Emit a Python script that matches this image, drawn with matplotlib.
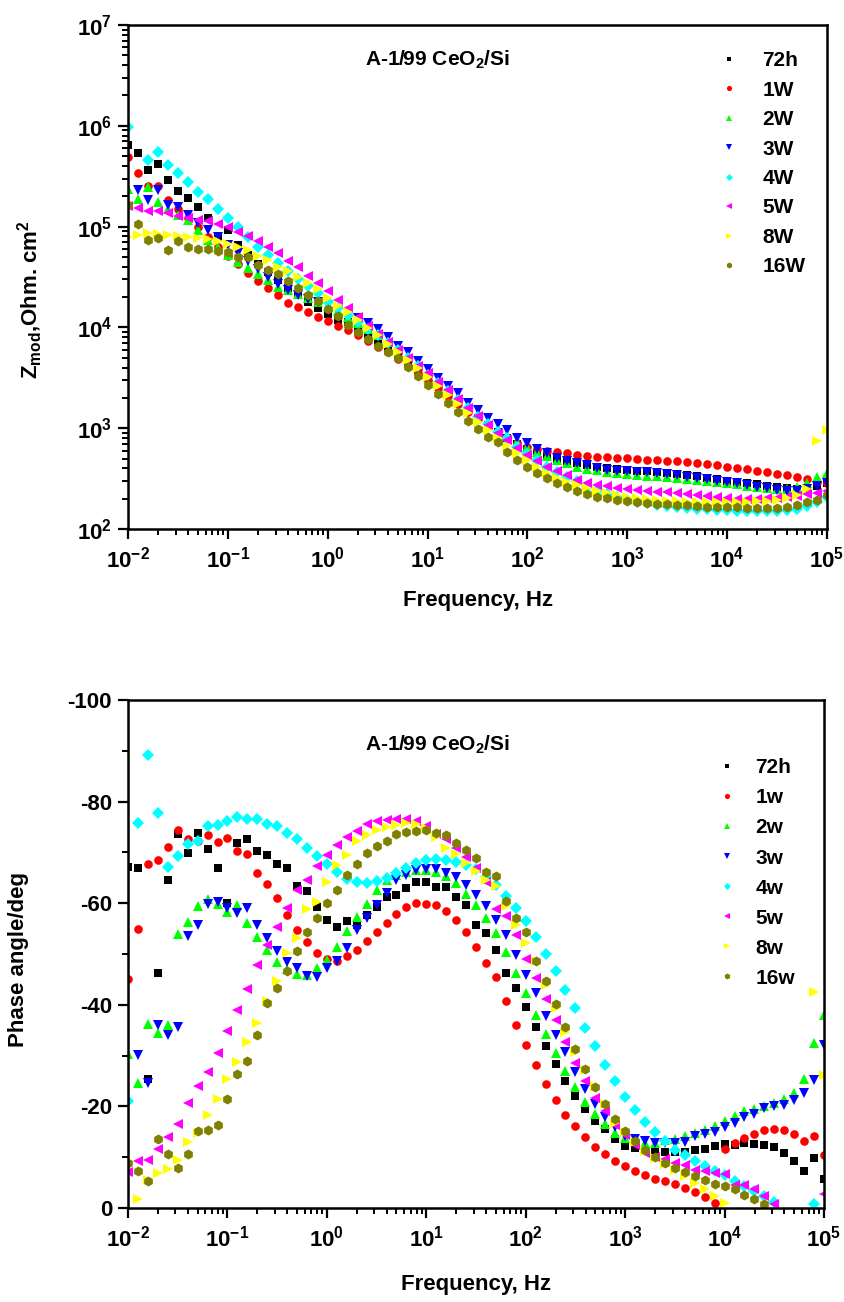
import numpy as np
import matplotlib
matplotlib.use("Agg")
import matplotlib.pyplot as plt
from matplotlib.ticker import FixedLocator, FuncFormatter, LogLocator, NullFormatter, MultipleLocator

plt.rcParams.update({
    "font.family": ["Liberation Sans", "DejaVu Sans"],
    "font.weight": "bold",
    "axes.labelweight": "bold",
    "mathtext.fontset": "custom",
    "mathtext.rm": "Liberation Sans",
    "mathtext.bf": "Liberation Sans:bold",
    "mathtext.it": "Liberation Sans:italic",
    "axes.unicode_minus": False,
})

nan = np.nan

# measurement frequencies: 10 points per decade, 0.01 Hz ... 100 kHz
freq_hz = np.logspace(-2, 5, 71)

labels_top = ["72h", "1W", "2W", "3W", "4W", "5W", "8W", "16W"]
labels_bottom = ["72h", "1w", "2w", "3w", "4w", "5w", "8w", "16w"]

# log10 |Z| (Ohm cm^2), from 0.01 Hz upward
logz_72h = [5.81, 5.73, 5.56, 5.62, 5.46, 5.35, 5.28, 5.19, 5.09, 4.90,
            4.97, 4.82, 4.72, 4.63, 4.55, 4.47, 4.39, 4.32, 4.25, 4.19,
            4.13, 4.07, 4.05, 3.98, 3.92, 3.86, 3.80, 3.73, 3.66, 3.58,
            3.50, 3.42, 3.34, 3.26, 3.18, 3.10, 3.03, 2.96, 2.90, 2.84,
            2.79, 2.75, 2.72, 2.69, 2.67, 2.65, 2.63, 2.62, 2.61, 2.60,
            2.59, 2.58, 2.58, 2.57, 2.56, 2.55, 2.54, 2.53, 2.51, 2.50,
            2.48, 2.47, 2.46, 2.45, 2.43, 2.42, 2.41, 2.40, 2.41, 2.43, 2.46]
logz_1w = [5.69, 5.53, 5.40, 5.40, 5.26, 5.17, 5.09, 5.00, 4.90, 4.80,
           4.71, 4.63, 4.54, 4.46, 4.39, 4.32, 4.24, 4.20, 4.15, 4.10,
           4.06, 4.01, 3.97, 3.92, 3.87, 3.81, 3.76, 3.69, 3.62, 3.55,
           3.48, 3.40, 3.32, 3.24, 3.16, 3.09, 3.02, 2.96, 2.90, 2.85,
           2.81, 2.79, 2.77, 2.76, 2.75, 2.73, 2.72, 2.71, 2.71, 2.70,
           2.70, 2.69, 2.68, 2.68, 2.67, 2.67, 2.66, 2.65, 2.64, 2.63,
           2.62, 2.61, 2.60, 2.58, 2.57, 2.55, 2.54, 2.52, 2.50, 2.47, 2.46]
logz_2w = [5.37, 5.27, 5.39, 5.24, 5.17, 5.12, 5.07, 4.97, 4.87, 4.80,
           4.72, 4.65, 4.59, 4.53, 4.47, 4.40, 4.37, 4.33, 4.29, 4.25,
           4.21, 4.16, 4.10, 4.04, 3.98, 3.92, 3.86, 3.79, 3.72, 3.64,
           3.56, 3.48, 3.39, 3.31, 3.22, 3.14, 3.06, 2.99, 2.93, 2.86,
           2.81, 2.76, 2.72, 2.68, 2.65, 2.62, 2.60, 2.59, 2.57, 2.56,
           2.55, 2.54, 2.53, 2.53, 2.52, 2.51, 2.50, 2.49, 2.48, 2.47,
           2.46, 2.45, 2.43, 2.42, 2.41, 2.40, 2.40, 2.42, 2.46, 2.52, 2.56]
logz_3w = [nan, 5.36, 5.26, 5.36, 5.21, 5.19, 5.12, 5.04, 4.97, 4.90,
           4.82, 4.74, 4.66, 4.58, 4.50, 4.43, 4.37, 4.32, 4.28, 4.25,
           4.22, 4.17, 4.13, 4.09, 4.04, 3.98, 3.90, 3.82, 3.76, 3.67,
           3.59, 3.50, 3.42, 3.35, 3.25, 3.18, 3.10, 3.04, 2.98, 2.90,
           2.85, 2.79, 2.75, 2.70, 2.67, 2.65, 2.63, 2.61, 2.59, 2.58,
           2.58, 2.57, 2.57, 2.56, 2.55, 2.54, 2.52, 2.51, 2.50, 2.48,
           2.47, 2.46, 2.44, 2.42, 2.41, 2.39, 2.38, 2.38, 2.40, 2.43, 2.46]
logz_4w = [5.99, nan, 5.66, 5.74, 5.61, 5.53, 5.44, 5.34, 5.27, 5.17,
           5.09, 5.00, 4.90, 4.80, 4.72, 4.64, 4.56, 4.48, 4.41, 4.34,
           4.25, 4.19, 4.12, 4.05, 3.98, 3.92, 3.85, 3.78, 3.70, 3.62,
           3.53, 3.45, 3.37, 3.28, 3.20, 3.11, 3.04, 2.96, 2.90, 2.81,
           2.74, 2.68, 2.62, 2.57, 2.52, 2.48, 2.42, 2.38, 2.35, 2.32,
           2.29, 2.27, 2.26, 2.24, 2.23, 2.22, 2.21, 2.20, 2.20, 2.19,
           2.19, 2.18, 2.18, 2.18, 2.18, 2.18, 2.19, 2.20, 2.23, 2.27, 2.32]
logz_5w = [5.20, 5.18, 5.15, 5.15, 5.13, 5.11, 5.09, 5.07, 5.06, 5.03,
           5.00, 4.95, 4.91, 4.86, 4.80, 4.74, 4.66, 4.60, 4.51, 4.44,
           4.36, 4.27, 4.19, 4.10, 4.01, 3.93, 3.86, 3.78, 3.70, 3.62,
           3.55, 3.46, 3.38, 3.29, 3.20, 3.12, 3.03, 2.95, 2.88, 2.80,
           2.73, 2.67, 2.62, 2.58, 2.54, 2.49, 2.46, 2.44, 2.43, 2.41,
           2.40, 2.39, 2.38, 2.37, 2.37, 2.36, 2.35, 2.34, 2.33, 2.32,
           2.31, 2.30, 2.30, 2.30, 2.31, 2.31, 2.32, 2.33, 2.35, 2.36, 2.38]
logz_8w = [4.90, 4.92, 4.94, 4.93, 4.92, 4.91, 4.90, 4.89, 4.88, 4.86,
           4.83, 4.80, 4.77, 4.71, 4.67, 4.60, 4.56, 4.50, 4.44, 4.38,
           4.29, 4.21, 4.15, 4.07, 3.99, 3.92, 3.84, 3.76, 3.68, 3.60,
           3.51, 3.42, 3.33, 3.24, 3.15, 3.06, 2.98, 2.90, 2.82, 2.75,
           2.68, 2.62, 2.56, 2.51, 2.47, 2.44, 2.41, 2.38, 2.36, 2.34,
           2.32, 2.31, 2.30, 2.29, 2.28, 2.28, 2.27, 2.27, 2.27, 2.27,
           2.27, 2.27, 2.27, 2.28, 2.28, 2.29, 2.31, 2.34, 2.40, 2.87, 2.98]
logz_16w = [5.21, 5.03, 4.87, 4.89, 4.77, 4.86, 4.80, 4.78, 4.78, 4.76,
            4.75, 4.70, 4.70, 4.62, 4.57, 4.53, 4.46, 4.39, 4.32, 4.26,
            4.18, 4.11, 4.02, 3.95, 3.88, 3.82, 3.76, 3.70, 3.61, 3.52,
            3.43, 3.34, 3.25, 3.16, 3.07, 2.99, 2.91, 2.86, 2.76, 2.68,
            2.62, 2.56, 2.51, 2.46, 2.42, 2.38, 2.35, 2.32, 2.31, 2.29,
            2.28, 2.27, 2.26, 2.25, 2.25, 2.24, 2.24, 2.23, 2.22, 2.22,
            2.22, 2.22, 2.21, 2.21, 2.21, 2.21, 2.22, 2.24, 2.27, 2.29, 2.34]

# phase angle (deg), from 0.01 Hz upward
phase_72h = [-67.2, -67.0, -25.4, -46.2, -64.6, -73.6, -69.9, -73.8, -70.6, -66.9,
             -60.1, -71.9, -72.6, -70.3, -69.5, -67.7, -66.9, -63.4, -62.3, -59.2,
             -56.7, -55.3, -56.4, -55.7, -57.7, -59.2, -61.3, -61.6, -62.9, -64.1,
             -64.1, -63.1, -63.1, -61.2, -59.6, -55.7, -54.2, -50.8, -46.3, -43.4,
             -39.5, -35.7, -31.8, -28.3, -24.9, -22.0, -19.4, -17.2, -15.5, -13.5,
             -12.2, -11.9, -11.4, -11.3, -11.1, -11.1, -11.1, -11.4, -11.6, -12.2,
             -12.6, -12.4, -12.7, -12.6, -12.4, -12.1, -10.8, -9.3, -7.2, -9.8, -5.8]
phase_1w = [-45.1, -54.9, -67.7, -68.5, -71.0, -74.4, -72.6, -72.3, -73.4, -72.0,
            -72.8, -70.3, -69.6, -66.0, -63.8, -61.0, -57.7, -54.7, -52.3, -50.1,
            -49.0, -48.6, -49.6, -50.7, -52.6, -54.4, -56.0, -57.9, -59.2, -60.0,
            -59.8, -59.6, -58.5, -56.7, -54.4, -51.3, -48.2, -45.5, -40.8, -36.1,
            -32.1, -28.1, -24.5, -21.3, -18.3, -16.1, -14.0, -12.1, -10.6, -9.3,
            -8.3, -7.3, -6.5, -5.8, -5.4, -4.7, -3.9, -3.2, -2.2, -1.0,
            -11.7, -12.7, -13.7, -14.6, -15.3, -15.5, -15.3, -14.6, -13.1, -14.1, -10.4]
phase_2w = [-30.4, -24.7, -36.2, -34.5, -36.0, -53.9, -56.2, -59.4, -60.8, -59.8,
            -58.3, -59.6, -56.0, -53.4, -50.7, -48.5, -47.0, -46.1, -45.9, -47.2,
            -48.8, -51.4, -54.5, -57.3, -59.8, -62.6, -64.6, -65.6, -66.2, -66.5,
            -66.5, -66.2, -65.4, -63.9, -61.9, -59.6, -57.0, -54.2, -50.3, -46.3,
            -42.4, -38.0, -34.3, -30.6, -27.0, -23.8, -20.9, -18.5, -16.5, -14.8,
            -13.7, -13.1, -12.8, -12.8, -13.4, -13.5, -14.1, -14.7, -15.4, -16.1,
            -17.2, -18.1, -19.1, -19.4, -20.1, -20.7, -21.4, -22.6, -25.4, -32.4, -38.0]
phase_3w = [nan, -30.1, -24.7, -36.0, -34.1, -35.7, -53.5, -55.8, -59.9, -60.3,
            -59.0, -58.1, -59.1, -55.8, -53.1, -50.5, -48.5, -47.2, -45.7, -45.4,
            -47.2, -48.7, -51.1, -54.7, -57.0, -59.6, -62.1, -64.6, -65.6, -66.5,
            -66.7, -66.7, -66.0, -65.1, -63.6, -61.6, -59.5, -56.6, -53.7, -49.8,
            -45.9, -42.3, -37.7, -34.1, -30.8, -26.8, -23.4, -20.5, -18.0, -16.0,
            -14.2, -13.5, -13.2, -12.8, -12.8, -12.8, -13.0, -14.2, -14.6, -15.0,
            -16.0, -16.7, -18.0, -18.5, -19.6, -20.1, -20.3, -21.3, -22.7, -25.1, -32.1]
phase_4w = [-21.1, -75.8, -89.2, -77.8, -67.2, -69.3, -71.6, -72.3, -75.2, -75.4,
            -76.2, -77.0, -76.5, -76.5, -75.6, -75.1, -73.9, -72.6, -70.8, -69.3,
            -67.8, -66.1, -64.7, -64.2, -63.9, -64.3, -65.0, -66.0, -66.9, -67.9,
            -68.4, -68.6, -68.5, -68.2, -67.6, -66.8, -65.2, -63.6, -61.5, -59.1,
            -56.5, -53.4, -50.0, -46.6, -43.0, -39.3, -35.4, -31.8, -28.1, -24.9,
            -21.9, -19.3, -17.0, -15.0, -13.1, -11.4, -10.4, -9.3, -8.3, -7.3,
            -6.5, -5.3, -4.3, -3.4, -2.4, -1.2, nan, nan, nan, -0.7, nan]
phase_5w = [-7.1, -9.3, -9.4, -11.6, -14.0, -16.5, -20.7, -24.0, -26.8, -30.6,
            -34.9, -39.0, -43.2, -47.8, -51.8, -55.4, -59.0, -62.6, -64.6, -67.3,
            -69.4, -71.5, -73.1, -74.3, -75.5, -76.1, -76.4, -76.5, -76.5, -76.1,
            -75.1, -73.6, -72.6, -70.8, -69.0, -67.0, -64.2, -58.8, -57.4, -53.7,
            -49.1, -45.2, -41.1, -37.0, -32.7, -28.5, -24.9, -21.6, -19.0, -16.3,
            -14.4, -12.4, -10.9, -10.1, -9.6, -8.9, -8.5, -7.5, -7.3, -6.8,
            -6.7, -4.5, -4.5, -3.7, -2.4, -0.8, nan, nan, nan, nan, -2.7]
phase_8w = [nan, -1.7, -5.6, -6.9, -7.6, -9.4, -12.9, -14.7, -18.3, -21.4,
            -25.3, -28.8, -32.7, -36.4, -40.7, -44.6, -50.2, -53.1, -58.9, -60.2,
            -64.2, -67.6, -69.4, -72.3, -73.5, -74.5, -75.0, -75.4, -75.8, -75.6,
            -74.8, -73.0, -70.8, -69.7, -68.0, -66.3, -64.6, -63.3, -59.5, -55.7,
            -52.1, -48.6, -43.8, -39.4, -34.7, -30.7, -27.2, -24.1, -20.5, -16.8,
            -15.0, -12.9, -11.3, -9.8, -8.7, -7.5, -6.2, -5.0, -3.7, -2.4,
            -0.9, nan, nan, nan, nan, nan, nan, nan, nan, -42.6, -26.2]
phase_16w = [-8.8, -7.3, -5.4, -13.5, -10.6, -7.8, -10.7, -15.2, -15.4, -16.3,
             -21.4, -26.3, -28.9, -34.1, -40.3, -43.4, -46.7, -50.6, -54.4, -57.0,
             -60.0, -62.6, -65.6, -67.7, -69.8, -71.3, -72.3, -73.6, -74.1, -74.3,
             -74.4, -73.9, -73.4, -71.9, -70.5, -68.8, -66.2, -65.4, -60.5, -57.0,
             -54.4, -48.6, -44.6, -40.2, -35.6, -31.2, -27.3, -23.8, -20.5, -17.6,
             -15.2, -13.2, -11.4, -10.0, -8.8, -7.8, -7.0, -6.2, -5.5, -4.7,
             -4.3, -3.7, -2.6, -1.7, -0.8, nan, nan, nan, nan, nan, nan]

logz_series = [logz_72h, logz_1w, logz_2w, logz_3w, logz_4w, logz_5w, logz_8w, logz_16w]
phase_series = [phase_72h, phase_1w, phase_2w, phase_3w, phase_4w, phase_5w, phase_8w, phase_16w]

colors = ["#000000", "#ff0000", "#00ff00", "#0000ff", "#00ffff", "#ff00ff", "#ffff00", "#808000"]
markers = ["s", "o", "^", "v", "D", "<", ">", "h"]
msizes = [5.3, 6.2, 7.4, 7.4, 5.9, 7.4, 7.4, 7.2]

FS = 16


def pow10_label(v, pos):
    e = int(round(np.log10(v)))
    return r"$\mathbf{10}^{\mathrm{%d}}$" % e


def style_axes(ax):
    for sp in ax.spines.values():
        sp.set_linewidth(1.8)
    ax.tick_params(which="major", direction="out", length=7.5, width=1.6,
                   labelsize=FS, top=False, right=False)
    ax.tick_params(which="minor", direction="out", length=4.2, width=1.4,
                   top=False, right=False)
    ax.tick_params(axis="x", which="major", pad=5)
    ax.tick_params(axis="y", which="major", pad=4)
    ax.xaxis.set_major_locator(FixedLocator([10.0 ** e for e in range(-2, 6)]))
    ax.xaxis.set_major_formatter(FuncFormatter(pow10_label))
    ax.xaxis.set_minor_locator(LogLocator(base=10, subs=np.arange(2, 10), numticks=20))
    ax.xaxis.set_minor_formatter(NullFormatter())


def add_legend(ax, labels, anchor, spacing, textpad):
    handles = ax.get_lines()
    leg = ax.legend(handles, labels, loc="upper left", bbox_to_anchor=anchor,
                    frameon=False, fontsize=15, borderaxespad=0, borderpad=0,
                    handlelength=1.0, handletextpad=textpad, labelspacing=spacing,
                    markerscale=0.6, numpoints=1)
    return leg


fig = plt.figure(figsize=(8.44, 13.02), dpi=100)
ax1 = fig.add_axes([0.1517, 0.5937, 0.8282, 0.3871])
ax2 = fig.add_axes([0.1517, 0.0722, 0.8246, 0.3902])

# |Z| vs frequency
for vals, c, m, s in zip(logz_series, colors, markers, msizes):
    ax1.plot(freq_hz, 10.0 ** np.asarray(vals), ls="none", marker=m, ms=s,
             color=c, mew=0)
ax1.set_xscale("log")
ax1.set_yscale("log")
ax1.set_xlim(1e-2, 1e5)
ax1.set_ylim(1e2, 1e7)
style_axes(ax1)
ax1.yaxis.set_major_locator(FixedLocator([10.0 ** e for e in range(2, 8)]))
ax1.yaxis.set_major_formatter(FuncFormatter(pow10_label))
ax1.yaxis.set_minor_locator(LogLocator(base=10, subs=np.arange(2, 10), numticks=20))
ax1.yaxis.set_minor_formatter(NullFormatter())
ax1.set_xlabel("Frequency, Hz", fontsize=FS)
ax1.set_ylabel(r"Z$_{\mathrm{mod}}$,Ohm. cm$^{\mathrm{2}}$", fontsize=FS, va="center")
ax1.xaxis.set_label_coords(0.5, -0.121)
ax1.yaxis.set_label_coords(-0.139, 0.456)
ax1.text(0.339, 0.930, r"A-1/99 CeO$_{\mathrm{2}}$/Si", transform=ax1.transAxes,
         fontsize=15, ha="left", va="center")
add_legend(ax1, labels_top, (0.845, 0.9477), 0.50, 1.09)

# phase angle vs frequency
for vals, c, m, s in zip(phase_series, colors, markers, msizes):
    ax2.plot(freq_hz, vals, ls="none", marker=m, ms=s, color=c, mew=0)
ax2.set_xscale("log")
ax2.set_xlim(1e-2, 1e5)
ax2.set_ylim(0, -100)
style_axes(ax2)
ax2.yaxis.set_major_locator(MultipleLocator(20))
ax2.yaxis.set_minor_locator(MultipleLocator(10))
ax2.set_xlabel("Frequency, Hz", fontsize=FS)
ax2.set_ylabel("Phase angle/deg", fontsize=FS, va="center")
ax2.xaxis.set_label_coords(0.5, -0.130)
ax2.yaxis.set_label_coords(-0.157, 0.489)
ax2.text(0.341, 0.911, r"A-1/99 CeO$_{\mathrm{2}}$/Si", transform=ax2.transAxes,
         fontsize=15, ha="left", va="center")
add_legend(ax2, labels_bottom, (0.846, 0.885), 0.53, 0.85)

fig.savefig("out.png", dpi=100)
